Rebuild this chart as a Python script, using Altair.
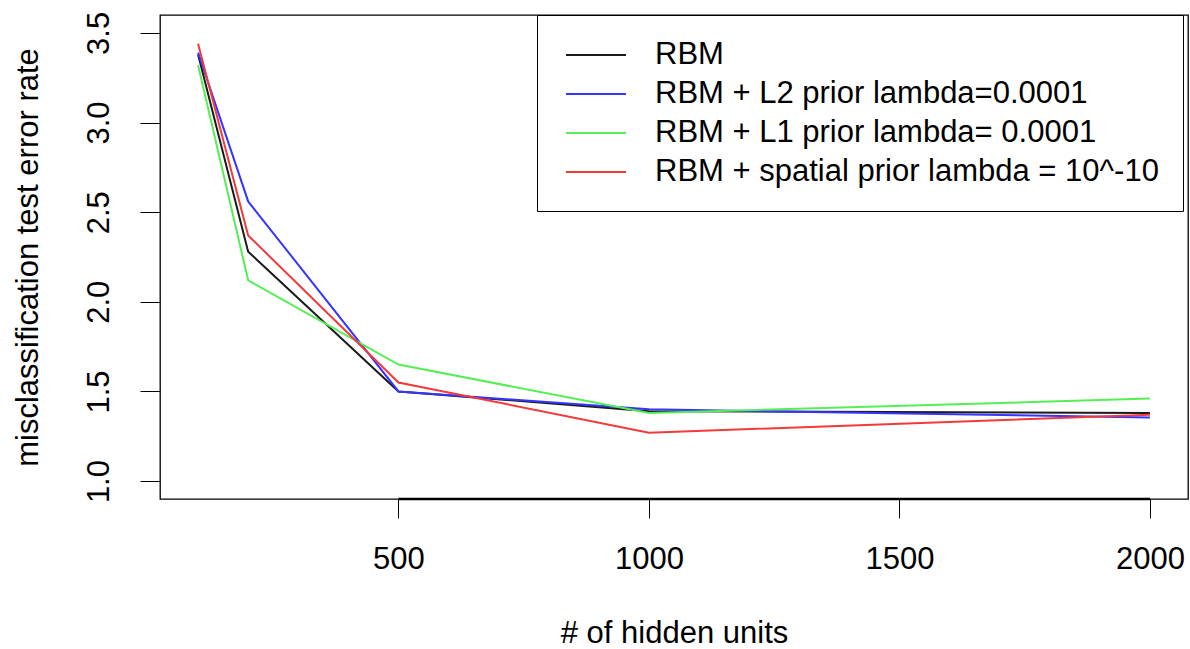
import altair as alt
import pandas as pd

hidden_units = [100, 200, 500, 1000, 2000]
series_names = [
    "RBM",
    "RBM + L2 prior lambda=0.0001",
    "RBM + L1 prior lambda= 0.0001",
    "RBM + spatial prior lambda = 10^-10",
]
rbm = [3.38, 2.28, 1.50, 1.39, 1.38]
rbm_l2 = [3.39, 2.56, 1.50, 1.40, 1.355]
rbm_l1 = [3.32, 2.12, 1.65, 1.38, 1.46]
rbm_spatial = [3.44, 2.37, 1.55, 1.27, 1.37]
series_colors = ["#1a1a1a", "#3535ff", "#55ee55", "#f23a3a"]
x_ticks = [500, 1000, 1500, 2000]
y_ticks = [1.0, 1.5, 2.0, 2.5, 3.0, 3.5]

rows = []
for name, vals in zip(series_names, [rbm, rbm_l2, rbm_l1, rbm_spatial]):
    for i, (x, v) in enumerate(zip(hidden_units, vals)):
        rows.append({"series": name, "units": x, "err": v, "order": i})
df = pd.DataFrame(rows)

FONT = "Liberation Sans"
FS = 31
W, H = 1028, 484

x_scale = alt.Scale(domain=[24, 2076], nice=False, zero=False)
y_scale = alt.Scale(domain=[0.9, 3.6], nice=False, zero=False)

lines = alt.Chart(df).mark_line(strokeWidth=2).encode(
    x=alt.X("units:Q", scale=x_scale,
            axis=alt.Axis(values=x_ticks, format="d", title="# of hidden units", grid=False,
                          domain=False, tickSize=19, tickColor="black", tickWidth=1,
                          labelFont=FONT, labelFontSize=FS, labelColor="black",
                          labelBaseline="alphabetic", labelPadding=50, labelFlush=False,
                          titleFont=FONT, titleFontSize=FS, titleFontWeight="normal",
                          titleColor="black", titleBaseline="alphabetic",
                          titleX=514, titleY=143, titleAlign="center")),
    y=alt.Y("err:Q", scale=y_scale,
            axis=alt.Axis(values=y_ticks, format=".1f", title="misclassification test error rate",
                          grid=False, domain=False, tickSize=20, tickColor="black", tickWidth=1,
                          labelFont=FONT, labelFontSize=FS, labelColor="black",
                          labelAngle=270, labelAlign="center", labelBaseline="alphabetic",
                          labelPadding=32, labelFlush=False,
                          titleFont=FONT, titleFontSize=FS, titleFontWeight="normal",
                          titleColor="black", titleAngle=270, titleAlign="center",
                          titleBaseline="alphabetic", titleX=-123, titleY=242)),
    color=alt.Color("series:N",
                    scale=alt.Scale(domain=series_names, range=series_colors),
                    legend=alt.Legend(title=None, orient="none", legendX=377, legendY=0,
                                      symbolType="M-2,0H2", symbolSize=900, symbolStrokeWidth=2,
                                      symbolOffset=19,
                                      labelFont=FONT, labelFontSize=FS, labelColor="black",
                                      labelOffset=43, rowPadding=8, padding=24,
                                      strokeColor="black", fillColor="white", labelLimit=800)),
    order="order:Q",
)

axis_rule = alt.Chart(pd.DataFrame({"a": [x_ticks[0]], "b": [x_ticks[-1]]})).mark_rule(
    color="black", strokeWidth=2.5
).encode(x=alt.X("a:Q", scale=x_scale), x2="b:Q", y=alt.value(H))

chart = alt.layer(axis_rule, lines).properties(
    width=W, height=H,
    padding={"left": 160, "top": 15, "right": 2, "bottom": 150},
    autosize=alt.AutoSizeParams(type="none"),
    background="white",
).configure_view(stroke="black", strokeWidth=1.3)

chart.save("out.html", embed_options={"renderer": "svg", "actions": False})
